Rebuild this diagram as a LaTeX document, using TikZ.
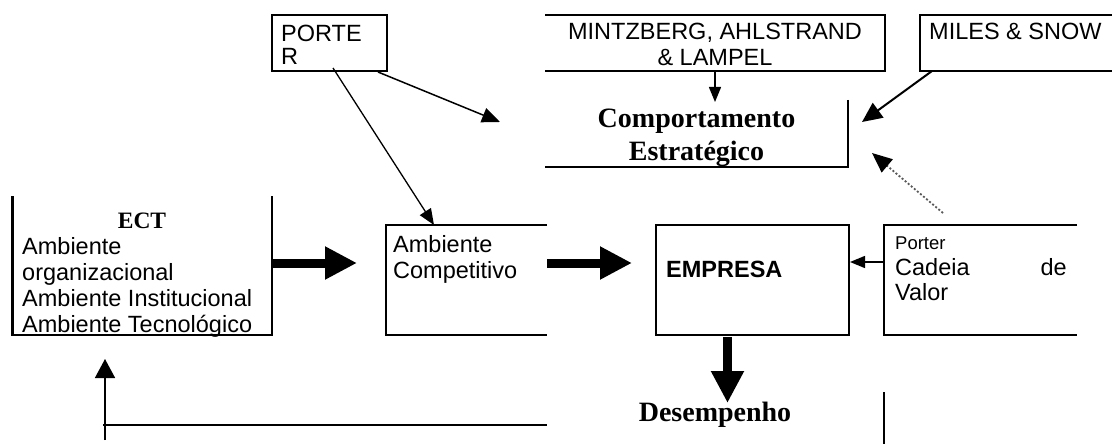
\documentclass[tikz,border=0pt]{standalone}
\usepackage{fontspec}
\setmainfont{Liberation Sans}
\newfontfamily\tnr{Liberation Serif}
\usetikzlibrary{arrows.meta}
\begin{document}
\begin{tikzpicture}[x=1pt,y=-1pt,
  boxline/.style={line width=2.6pt},
  txt/.style={inner sep=0pt, anchor=base west, font=\fontsize{23.5}{26}\selectfont},
  ctxt/.style={inner sep=0pt, anchor=base, font=\fontsize{23.5}{26}\selectfont},
  ttl/.style={inner sep=0pt, anchor=base, font=\tnr\bfseries\fontsize{28}{32}\selectfont},
  arr/.style={line width=1.5pt, -{Triangle[length=18pt,width=15pt]}},
  smallarr/.style={line width=1.4pt, -{Triangle[length=15pt,width=12pt]}},
  bigarr/.style={line width=9pt, -{Triangle[length=32pt,width=31pt]}},
  dotarr/.style={line width=1.8pt, black!65, dash pattern=on 2pt off 2pt, -{Triangle[length=20pt,width=17pt,color=black]}},
]
\useasboundingbox (0,0) rectangle (1112,444);

% --- coordinates
\coordinate (porterTL) at (272,15);
\coordinate (porterBR) at (387,71);
\coordinate (porterOut1) at (378,72);
\coordinate (porterOut2) at (333,68);
\coordinate (compIn1) at (500,122);
\coordinate (mintzOut) at (715,71);
\coordinate (compIn2) at (715,102);
\coordinate (milesOut) at (932,71);
\coordinate (compIn3) at (862,122);
\coordinate (valTop) at (943,213);
\coordinate (compIn4) at (872,153);
\coordinate (ambIn) at (434,225);
\coordinate (ectOut) at (272,263);
\coordinate (ambIn2) at (357,263);
\coordinate (ambOut) at (547,263);
\coordinate (empIn) at (632,263);
\coordinate (valOut) at (884,262);
\coordinate (empIn2) at (850,262);
\coordinate (empOut) at (727.5,337);
\coordinate (desIn) at (727.5,403);
\coordinate (fbStart) at (105,440);
\coordinate (fbEnd) at (105,359);
\coordinate (fbL) at (103,425);
\coordinate (fbR) at (547,425);

% --- PORTER box
\draw[boxline] (porterTL) rectangle (porterBR);
\node[txt] (porter1) at (281,42) {PORTE};
\node[txt] (porter2) at (281,65) {R};

% --- MINTZBERG box (open left)
\draw[boxline] (545,15) -- (885,15) -- (885,71) -- (545,71);
\node[ctxt] (mintz1) at (715,40) {MINTZBERG, AHLSTRAND};
\node[ctxt] (mintz2) at (715,66) {\& LAMPEL};

% --- MILES & SNOW box (open right)
\draw[boxline] (1112,15) -- (920,15) -- (920,71) -- (1112,71);
\node[txt] (miles) at (929,40) {MILES \& SNOW};

% --- Comportamento Estrategico
\draw[boxline] (848,100) -- (848,167) -- (545,167);
\node[ttl] (comp1) at (696.5,128) {Comportamento};
\node[ttl] (comp2) at (696.5,160) {Estratégico};

% --- ECT box (open top)
\draw[boxline] (12.7,196) -- (12.7,335) -- (272,335) -- (272,196);
\node[inner sep=0pt, anchor=base, font=\tnr\bfseries\fontsize{23.5}{26}\selectfont] (ect) at (142,228) {ECT};
\node[txt] (ect1) at (22,254) {Ambiente};
\node[txt] (ect2) at (22,280) {organizacional};
\node[txt] (ect3) at (22,306) {Ambiente Institucional};
\node[txt] (ect4) at (22,332) {Ambiente Tecnológico};

% --- Ambiente Competitivo box (open right)
\draw[boxline] (547,225) -- (386,225) -- (386,335) -- (547,335);
\node[txt] (amb1) at (393,252) {Ambiente};
\node[txt] (amb2) at (393,278) {Competitivo};

% --- EMPRESA box
\draw[boxline] (656,225) rectangle (849,335);
\node[txt, font=\bfseries\fontsize{23.5}{26}\selectfont] (emp) at (666,277) {EMPRESA};

% --- Porter Cadeia de Valor box (open right)
\draw[boxline] (1077,225) -- (884,225) -- (884,335) -- (1077,335);
\node[txt, font=\fontsize{18.5}{22}\selectfont] (val0) at (895,249) {Porter};
\node[txt] (val1) at (895,275) {Cadeia};
\node[inner sep=0pt, anchor=base east, font=\fontsize{23.5}{26}\selectfont] (val2) at (1067,275) {de};
\node[txt] (val3) at (895,300) {Valor};

% --- Desempenho
\node[ttl] (des) at (715,421) {Desempenho};
\draw[boxline] (884,392) -- (884,444);

% --- connectors
\draw[arr] (porterOut1) -- (compIn1);
\draw[line width=1.3pt, -{Triangle[length=16pt,width=13pt]}] (porterOut2) -- (ambIn);
\draw[smallarr] (mintzOut) -- (compIn2);
\draw[line width=2pt, -{Triangle[length=20pt,width=18pt]}] (milesOut) -- (compIn3);
\draw[dotarr] (valTop) -- (compIn4);
\draw[bigarr] (ectOut) -- (ambIn2);
\draw[bigarr] (ambOut) -- (empIn);
\draw[smallarr] (valOut) -- (empIn2);
\draw[bigarr] (empOut) -- (desIn);
\draw[line width=1.5pt] (fbL) -- (fbR);
\draw[line width=1.5pt, -{Triangle[length=19pt,width=20pt]}] (fbStart) -- (fbEnd);
\end{tikzpicture}
\end{document}
